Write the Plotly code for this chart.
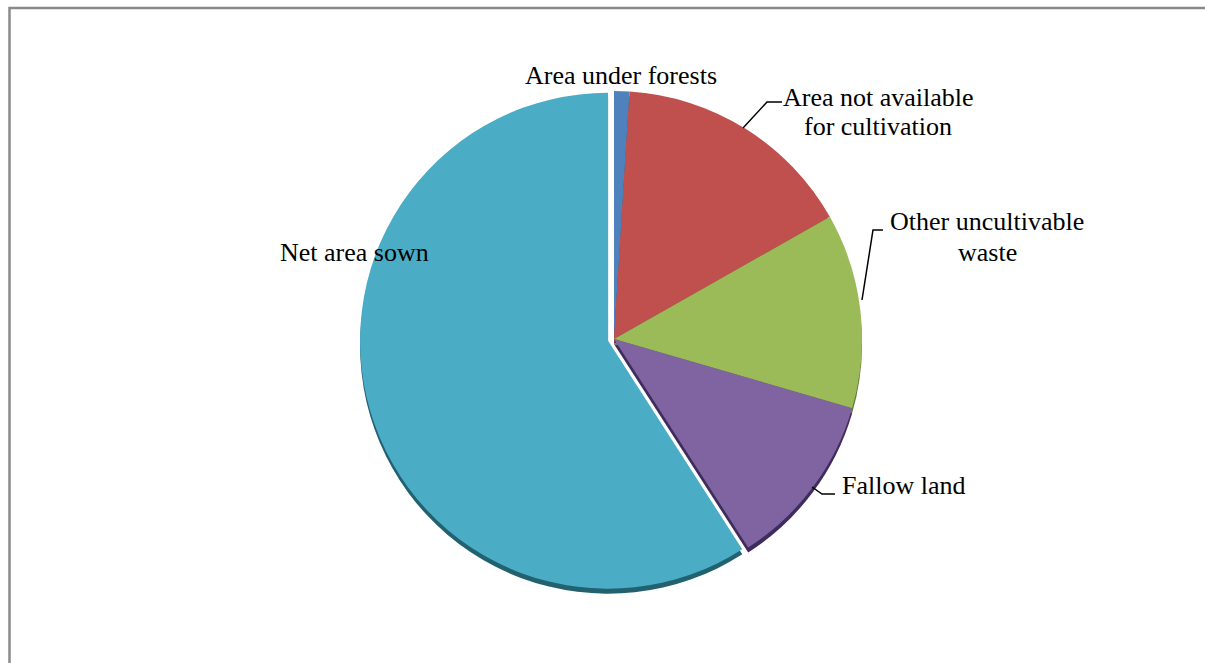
import plotly.graph_objects as go

# Data
categories = ["Area under forests", "Area not available for cultivation",
              "Other uncultivable waste", "Fallow land", "Net area sown"]
values = [1.0, 15.8, 12.7, 11.4, 59.1]
colors = ["#4F81BD", "#C0504D", "#9BBB59", "#8064A2", "#4BACC6"]
shadow_colors = ["#2C4F7A", "#7A2E2C", "#5F7A33", "#3E2C5C", "#22616F"]
pulls = [0, 0, 0, 0, 0.025]

W, H = 1205, 663

def px(x):
    return x / W

def py(y):
    return 1 - y / H

FONT = "Liberation Serif, Times New Roman, serif"

dom_x = [0.2986, 0.7205]
dom_y = [0.1053, 0.8721]
shadow_dy = 5 / H

fig = go.Figure()
# shadow (3D edge) pie
fig.add_trace(go.Pie(
    labels=categories,
    values=values,
    sort=False,
    direction="clockwise",
    rotation=0,
    pull=pulls,
    marker=dict(colors=shadow_colors, line=dict(width=0)),
    textinfo="none",
    hoverinfo="skip",
    showlegend=False,
    domain=dict(x=dom_x, y=[dom_y[0] - shadow_dy, dom_y[1] - shadow_dy]),
))
fig.add_trace(go.Pie(
    labels=categories,
    values=values,
    sort=False,
    direction="clockwise",
    rotation=0,
    pull=pulls,
    marker=dict(colors=colors, line=dict(width=0)),
    textinfo="none",
    hoverinfo="label+percent",
    showlegend=False,
    domain=dict(x=dom_x, y=dom_y),
))

label_specs = [
    ("Area under forests", 621, 75),
    ("Area not available", 878, 97),
    ("for cultivation", 878, 126),
    ("Other uncultivable", 987, 222),
    ("waste", 987, 253),
    ("Fallow land", 904, 486),
    ("Net area sown", 354, 253),
]
annotations = []
for text, x, y in label_specs:
    annotations.append(dict(
        text=text, x=px(x), y=py(y), xref="paper", yref="paper",
        showarrow=False, xanchor="center", yanchor="middle",
        font=dict(family=FONT, size=26, color="#000000"),
        align="center",
    ))

leaders = [
    [(743, 128), (767, 102), (782, 102)],
    [(862, 300), (873, 230), (883, 230)],
    [(812, 487), (822, 494), (835, 494)],
]
shapes = []
for pts in leaders:
    d = "M " + " L ".join(f"{px(a):.5f},{py(b):.5f}" for a, b in pts)
    shapes.append(dict(type="path", path=d, xref="paper", yref="paper",
                       line=dict(color="#000000", width=1.5)))

# outer chart border
shapes.append(dict(type="rect", xref="paper", yref="paper",
                   x0=px(9.5), y0=py(680), x1=px(1220), y1=py(8),
                   line=dict(color="#8a8a8a", width=2.5), fillcolor="rgba(0,0,0,0)"))

fig.update_layout(
    width=W, height=H,
    margin=dict(l=0, r=0, t=0, b=0),
    paper_bgcolor="#ffffff",
    plot_bgcolor="#ffffff",
    annotations=annotations,
    shapes=shapes,
)

fig.write_html("out.html",
               config={"displayModeBar": False},
               post_script="document.body.style.margin='0';document.body.style.overflow='hidden';")
